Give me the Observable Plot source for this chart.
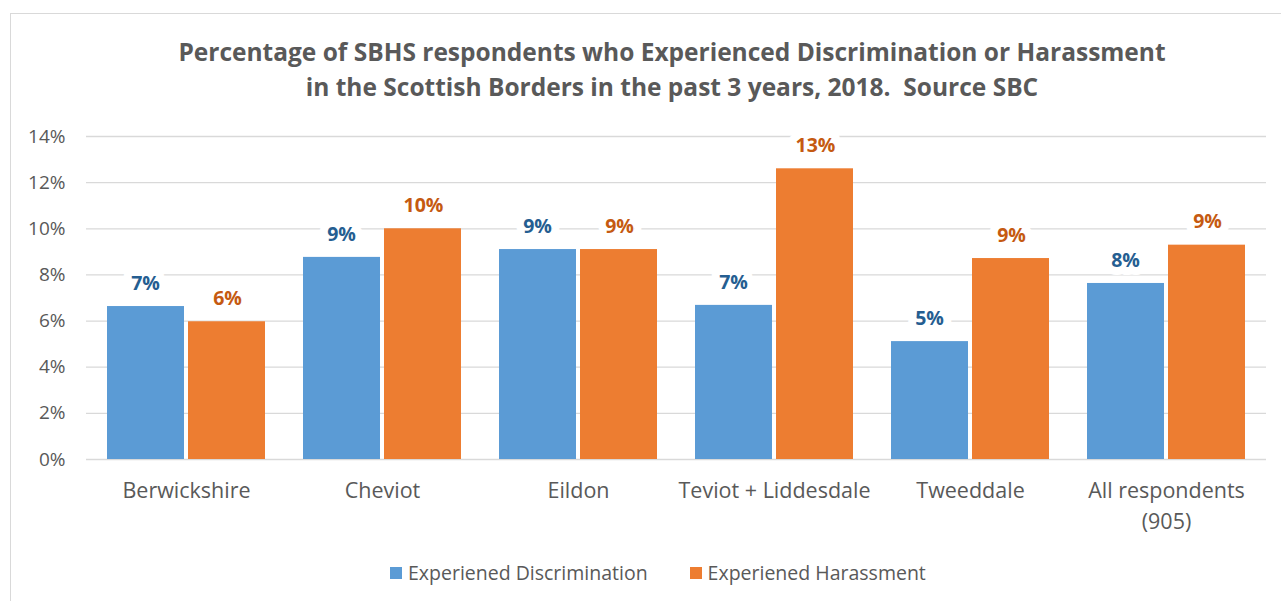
<!DOCTYPE html>
<html>
<head>
<meta charset="utf-8">
<script src="https://cdn.jsdelivr.net/npm/d3@7"></script>
<script src="https://cdn.jsdelivr.net/npm/@observablehq/plot@0.6"></script>
<style>
  html, body { margin: 0; padding: 0; background: #fff; overflow: hidden; }
  body { width: 1281px; height: 601px; position: relative; font-family: "Open Sans", sans-serif; }
  #frame { position: absolute; left: 10px; top: 13px; width: 1300px; height: 620px; border: 1px solid #d9d9d9; box-sizing: border-box; }
  #title { position: absolute; left: 0; width: 1344px; top: 34px; text-align: center; font-weight: bold; font-size: 24.5px; line-height: 35px; color: #595959; white-space: pre; }
  #chart { position: absolute; left: 0; top: 110px; }
  #legend { position: absolute; left: 390px; top: 561px; display: flex; font-size: 19.5px; color: #595959; line-height: 24px; white-space: nowrap; }
  .item { display: flex; align-items: center; margin-right: 42px; }
  .sw { width: 12px; height: 12px; margin-right: 6px; }
</style>
</head>
<body>
<div id="frame"></div>
<div id="title"></div>
<div id="chart"></div>
<div id="legend"></div>
<script>
const titleLines = [
  "Percentage of SBHS respondents who Experienced Discrimination or Harassment",
  "in the Scottish Borders in the past 3 years, 2018.  Source SBC"
];
const regions = ["Berwickshire", "Cheviot", "Eildon", "Teviot + Liddesdale", "Tweeddale", "All respondents\n(905)"];
const seriesNames = ["Experiened Discrimination", "Experiened Harassment"];
const discrimination = [6.63, 8.76, 9.10, 6.68, 5.11, 7.63];
const harassment = [5.97, 10.0, 9.10, 12.6, 8.71, 9.29];
const yTicks = [0, 2, 4, 6, 8, 10, 12, 14];
const barColors = ["#5B9BD5", "#ED7D31"];
const labelColors = ["#255E91", "#C55A11"];

document.getElementById("title").textContent = titleLines.join("\n");

const discData = regions.map((r, i) => ({region: r, series: seriesNames[0], value: discrimination[i]}));
const harData = regions.map((r, i) => ({region: r, series: seriesNames[1], value: harassment[i]}));

const half = 81; // half of band width in px
const chart = Plot.plot({
  width: 1281,
  height: 430,
  marginLeft: 86,
  marginRight: 15,
  marginTop: 26,
  marginBottom: 81,
  style: {fontFamily: "'Open Sans', sans-serif", color: "#595959", background: "transparent", overflow: "visible"},
  x: {domain: regions, paddingInner: 0.176, paddingOuter: 0.088, label: null, axis: null},
  y: {domain: [0, 14], axis: null},
  marks: [
    Plot.gridY(yTicks, {stroke: "#d9d9d9", strokeOpacity: 1, strokeWidth: 1.3}),
    Plot.axisY(yTicks, {tickSize: 0, tickPadding: 21, tickFormat: d => d + "%", fontSize: 19, label: null, fill: "#595959"}),
    Plot.barY(discData, {x: "region", y: "value", fill: barColors[0], insetLeft: 2, insetRight: half + 2}),
    Plot.barY(harData, {x: "region", y: "value", fill: barColors[1], insetLeft: half + 2, insetRight: 2}),
    Plot.text(discData, {x: "region", y: "value", text: d => Math.round(d.value) + "%", dx: -half / 2 - 0.5, dy: -23,
      fill: labelColors[0], fontWeight: "bold", fontSize: 19.5, stroke: "white", strokeWidth: 16}),
    Plot.text(harData, {x: "region", y: "value", text: d => Math.round(d.value) + "%", dx: half / 2 + 0.5, dy: -23,
      fill: labelColors[1], fontWeight: "bold", fontSize: 19.5, stroke: "white", strokeWidth: 16}),
    Plot.axisX(regions, {tickSize: 0, tickPadding: 17, fontSize: 21.5, lineHeight: 1.42, label: null, fill: "#595959"})
  ]
});
document.getElementById("chart").appendChild(chart);

const legend = document.getElementById("legend");
seriesNames.forEach((name, i) => {
  const item = document.createElement("div");
  item.className = "item";
  const sw = document.createElement("span");
  sw.className = "sw";
  sw.style.background = barColors[i];
  const t = document.createElement("span");
  t.textContent = name;
  item.appendChild(sw);
  item.appendChild(t);
  legend.appendChild(item);
});
</script>
</body>
</html>
